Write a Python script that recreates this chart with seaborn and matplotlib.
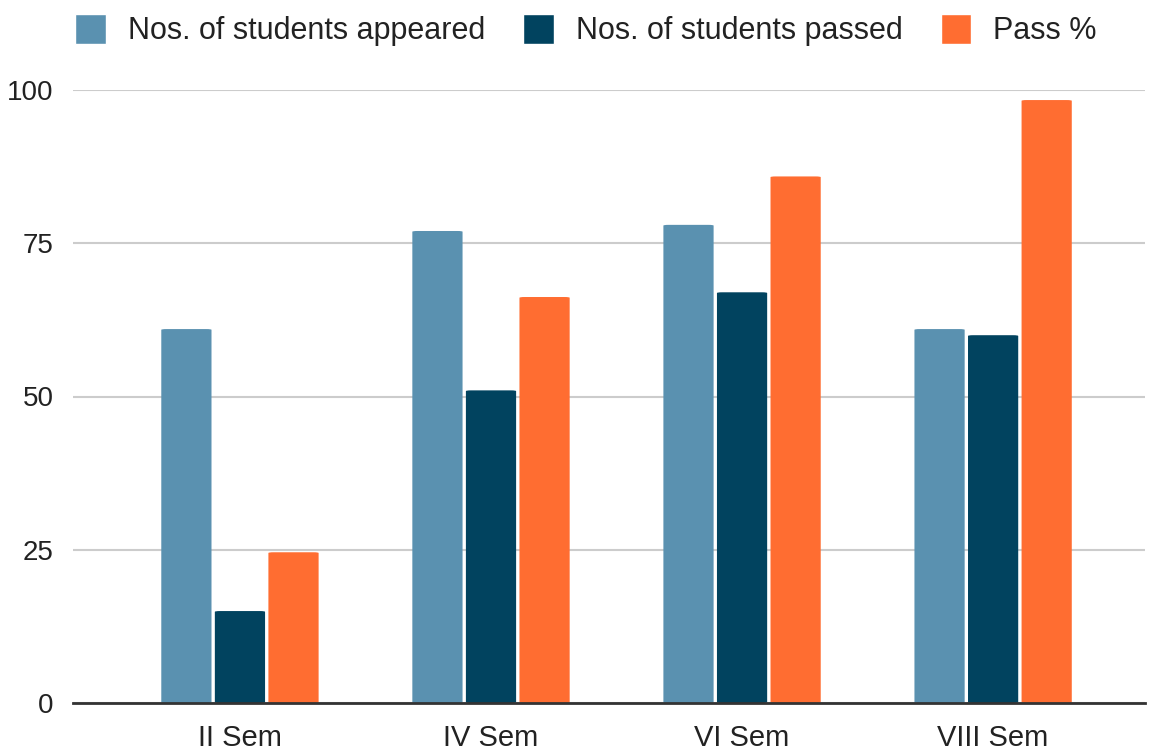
import matplotlib
matplotlib.use("Agg")
import matplotlib.pyplot as plt
import seaborn as sns
import pandas as pd
from matplotlib.patches import FancyBboxPatch

semesters = ["II Sem", "IV Sem", "VI Sem", "VIII Sem"]
appeared = [61, 77, 78, 61]
passed = [15, 51, 67, 60]
pass_pct = [24.59, 66.23, 85.9, 98.36]
series_names = ["Nos. of students appeared", "Nos. of students passed", "Pass %"]
colors = ["#5a91b0", "#01435f", "#ff6d31"]
yticks = [0, 25, 50, 75, 100]

rows = []
for name, vals in zip(series_names, [appeared, passed, pass_pct]):
    for s, v in zip(semesters, vals):
        rows.append({"Semester": s, "Series": name, "Value": v})
df = pd.DataFrame(rows)

sns.set_theme(style="white")
plt.rcParams["font.family"] = ["Liberation Sans", "DejaVu Sans"]

fig = plt.figure(figsize=(11.58, 7.51), dpi=100)
ax = fig.add_axes([73 / 1158, 48 / 751, (1145 - 73) / 1158, (703 - 90) / 751])

sns.barplot(data=df, x="Semester", y="Value", hue="Series", order=semesters,
            hue_order=series_names, palette=colors, width=0.64, gap=0.0625,
            saturation=1, ax=ax, legend=True)

# round the top corners slightly
for patch in list(ax.patches):
    x, y = patch.get_x(), patch.get_y()
    w, h = patch.get_width(), patch.get_height()
    if h <= 0:
        continue
    fc = patch.get_facecolor()
    patch.set_visible(False)
    rp = FancyBboxPatch((x, y), w, h, boxstyle="round,pad=0,rounding_size=0.02",
                        mutation_aspect=6.0, facecolor=fc, edgecolor="none", zorder=2)
    ax.add_patch(rp)

ax.set_ylim(0, 100)
ax.set_xlim(-0.665, 3.605)
ax.set_yticks(yticks)
ax.set_yticklabels([str(t) for t in yticks])
ax.set_xlabel("")
ax.set_ylabel("")
ax.grid(axis="y", color="#cccccc", linewidth=1.5, zorder=0)
ax.set_axisbelow(True)
for side in ["top", "right", "left"]:
    ax.spines[side].set_visible(False)
ax.spines["bottom"].set_color("#333333")
ax.spines["bottom"].set_linewidth(2)
ax.spines["bottom"].set_zorder(5)
ax.tick_params(axis="both", length=0, labelsize=20, colors="#222222")
ax.tick_params(axis="x", labelsize=21, pad=15)
ax.tick_params(axis="y", pad=14)

handles, labels = ax.get_legend_handles_labels()
ax.get_legend().remove()
fig.legend(handles, labels, loc="upper center", bbox_to_anchor=(0.506, 1.018), ncol=3,
           frameon=False, fontsize=22, handlelength=1.0, handleheight=1.12,
           handletextpad=0.72, columnspacing=1.25, labelcolor="#222222")

fig.savefig("out.png", dpi=100, facecolor="white")
